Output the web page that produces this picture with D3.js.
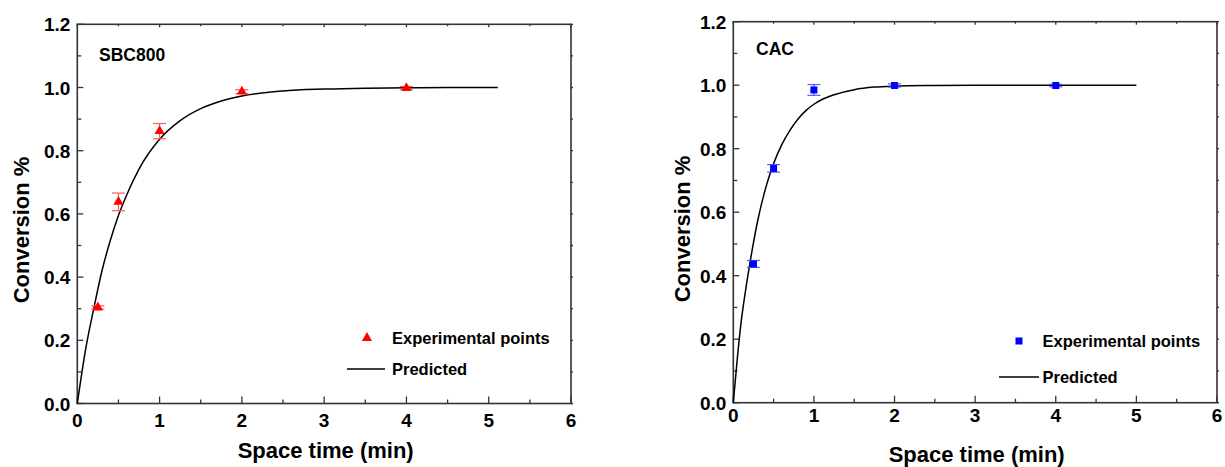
<!DOCTYPE html>
<html>
<head>
<meta charset="utf-8">
<script src="https://cdn.jsdelivr.net/npm/d3@7"></script>
<style>
  body { margin: 0; background: #fff; }
  svg text { font-family: "Liberation Sans", Arial, sans-serif; font-weight: bold; fill: #000; }
</style>
</head>
<body>
<div id="chart"></div>
<script>
// experimental points
const timeSBC = [0.25, 0.5, 1, 2, 4];
const convSBC = [0.304, 0.638, 0.862, 0.987, 0.998];
const errSBC  = [0.005, 0.028, 0.024, 0.006, 0.005];

const timeCAC = [0.25, 0.5, 1, 2, 4];
const convCAC = [0.437, 0.738, 0.985, 0.999, 0.999];
const errCAC  = [0.011, 0.012, 0.017, 0.005, 0.004];

// predicted curves
const predTimeSBC = [0, 0.1, 0.2, 0.3, 0.4, 0.5, 0.6, 0.75, 1, 1.25, 1.5, 1.75, 2, 2.5, 3, 3.5, 4, 4.5, 5.11];
const predSBC     = [0, 0.17, 0.30, 0.42, 0.515, 0.595, 0.66, 0.742, 0.836, 0.895, 0.933, 0.957, 0.973, 0.989, 0.995, 0.998, 0.999, 1, 1];

const predTimeCAC = [0, 0.05, 0.1, 0.15, 0.2, 0.3, 0.4, 0.5, 0.6, 0.7, 0.8, 0.9, 1, 1.1, 1.25, 1.5, 1.75, 2, 2.5, 3, 4, 5];
const predCAC     = [0, 0.14, 0.26, 0.35, 0.43, 0.57, 0.675, 0.753, 0.812, 0.857, 0.893, 0.92, 0.94, 0.955, 0.97, 0.986, 0.994, 0.997, 0.999, 1, 1, 1];

const xTicks = [0, 1, 2, 3, 4, 5, 6];
const yTicks = [0, 0.2, 0.4, 0.6, 0.8, 1.0, 1.2];

const svg = d3.select("#chart").append("svg")
  .attr("width", 1225).attr("height", 467);

const line = (x, y) => d3.line().x(d => x(d[0])).y(d => y(d[1])).curve(d3.curveMonotoneX);

function panel(o) {
  const x = d3.scaleLinear().domain([0, 6]).range([o.left, o.right]);
  const y = d3.scaleLinear().domain([0, 1.2]).range([o.bottom, o.top]);
  const g = svg.append("g");
  const axisColor = "#333";

  // ticks on all four sides, pointing in
  const xMinor = d3.range(0.5, 6, 1);
  const yMinor = d3.range(0.1, 1.2, 0.2);
  xTicks.forEach(t => {
    g.append("line").attr("x1", x(t)).attr("x2", x(t)).attr("y1", o.bottom).attr("y2", o.bottom - 7)
      .attr("stroke", axisColor).attr("stroke-width", 1.3);
    g.append("line").attr("x1", x(t)).attr("x2", x(t)).attr("y1", o.top).attr("y2", o.top + 3)
      .attr("stroke", axisColor).attr("stroke-width", 1.3);
  });
  xMinor.forEach(t => {
    g.append("line").attr("x1", x(t)).attr("x2", x(t)).attr("y1", o.bottom).attr("y2", o.bottom - 4)
      .attr("stroke", axisColor).attr("stroke-width", 1.3);
    g.append("line").attr("x1", x(t)).attr("x2", x(t)).attr("y1", o.top).attr("y2", o.top + 2)
      .attr("stroke", axisColor).attr("stroke-width", 1.3);
  });
  yTicks.forEach(t => {
    g.append("line").attr("x1", o.left).attr("x2", o.left + 6).attr("y1", y(t)).attr("y2", y(t))
      .attr("stroke", axisColor).attr("stroke-width", 1.3);
    g.append("line").attr("x1", o.right).attr("x2", o.right + 2).attr("y1", y(t)).attr("y2", y(t))
      .attr("stroke", axisColor).attr("stroke-width", 1.3);
  });
  yMinor.forEach(t => {
    g.append("line").attr("x1", o.left).attr("x2", o.left + 4).attr("y1", y(t)).attr("y2", y(t))
      .attr("stroke", axisColor).attr("stroke-width", 1.3);
    g.append("line").attr("x1", o.right).attr("x2", o.right + 2).attr("y1", y(t)).attr("y2", y(t))
      .attr("stroke", axisColor).attr("stroke-width", 1.3);
  });

  // frame
  g.append("rect").attr("x", o.left).attr("y", o.top)
    .attr("width", o.right - o.left).attr("height", o.bottom - o.top)
    .attr("fill", "none").attr("stroke", axisColor).attr("stroke-width", 1.6);

  // tick labels
  g.selectAll(".xl").data(xTicks).enter().append("text")
    .attr("x", d => x(d)).attr("y", o.bottom + o.xLabelDy)
    .attr("text-anchor", "middle").attr("font-size", 19).text(d => d);
  g.selectAll(".yl").data(yTicks).enter().append("text")
    .attr("x", o.left - 7).attr("y", d => y(d) + 7)
    .attr("text-anchor", "end").attr("font-size", 19).text(d => d.toFixed(1));

  // axis titles
  g.append("text").attr("x", (o.left + o.right) / 2 + o.xTitleShift).attr("y", o.xTitleY)
    .attr("text-anchor", "middle").attr("font-size", 22).text("Space time (min)");
  g.append("text").attr("transform", `translate(${o.yTitleX},${o.yTitleCY}) rotate(-90)`)
    .attr("text-anchor", "middle").attr("font-size", 22).text("Conversion %");

  // sample label
  g.append("text").attr("x", o.tagX).attr("y", o.tagY).attr("font-size", 17.5).text(o.tag);

  // predicted curve
  g.append("path").datum(o.predT.map((t, i) => [t, o.predV[i]]))
    .attr("d", line(x, y)).attr("fill", "none").attr("stroke", "#000").attr("stroke-width", 1.5);

  // error bars
  const pts = o.t.map((t, i) => ({ t: t, v: o.v[i], e: o.e[i] }));
  const eb = g.selectAll(".eb").data(pts).enter().append("g")
    .attr("stroke", o.errColor).attr("stroke-width", 1.2);
  eb.append("line").attr("x1", d => x(d.t)).attr("x2", d => x(d.t))
    .attr("y1", d => y(d.v - d.e)).attr("y2", d => y(d.v + d.e));
  eb.append("line").attr("x1", d => x(d.t) - 6.5).attr("x2", d => x(d.t) + 6.5)
    .attr("y1", d => y(d.v + d.e)).attr("y2", d => y(d.v + d.e));
  eb.append("line").attr("x1", d => x(d.t) - 6.5).attr("x2", d => x(d.t) + 6.5)
    .attr("y1", d => y(d.v - d.e)).attr("y2", d => y(d.v - d.e));

  // markers
  const sym = d3.symbol().type(o.symbol).size(o.symSize);
  g.selectAll(".pt").data(pts).enter().append("path")
    .attr("d", sym).attr("transform", d => `translate(${x(d.t)},${y(d.v)})`)
    .attr("fill", o.color);

  // legend
  g.append("path").attr("d", sym).attr("transform", `translate(${o.legSymX},${o.legY1})`).attr("fill", o.color);
  g.append("text").attr("x", o.legTextX).attr("y", o.legY1 + 6).attr("font-size", 16.5).text("Experimental points");
  g.append("line").attr("x1", o.legLineX1).attr("x2", o.legLineX2).attr("y1", o.legY2).attr("y2", o.legY2)
    .attr("stroke", "#000").attr("stroke-width", 1.5);
  g.append("text").attr("x", o.legTextX).attr("y", o.legY2 + 6).attr("font-size", 16.5).text("Predicted");
}

panel({
  left: 77.3, right: 571, top: 24.3, bottom: 403.5,
  xLabelDy: 23, xTitleY: 458, xTitleShift: 1.5, yTitleX: 29, yTitleCY: 230,
  tag: "SBC800", tagX: 99, tagY: 61,
  t: timeSBC, v: convSBC, e: errSBC, predT: predTimeSBC, predV: predSBC,
  color: "#ff0000", errColor: "#ff5a5a", symbol: d3.symbolTriangle, symSize: 45,
  legSymX: 367, legY1: 338, legTextX: 392, legLineX1: 347, legLineX2: 385, legY2: 369
});

panel({
  left: 733.3, right: 1217, top: 21.7, bottom: 402.7,
  xLabelDy: 19, xTitleY: 462, xTitleShift: 1.5, yTitleX: 690, yTitleCY: 229,
  tag: "CAC", tagX: 756, tagY: 55,
  t: timeCAC, v: convCAC, e: errCAC, predT: predTimeCAC, predV: predCAC,
  color: "#0000ff", errColor: "#5a5aff", symbol: d3.symbolSquare, symSize: 49,
  legSymX: 1019, legY1: 341, legTextX: 1042.5, legLineX1: 999, legLineX2: 1039, legY2: 377
});
</script>
</body>
</html>
